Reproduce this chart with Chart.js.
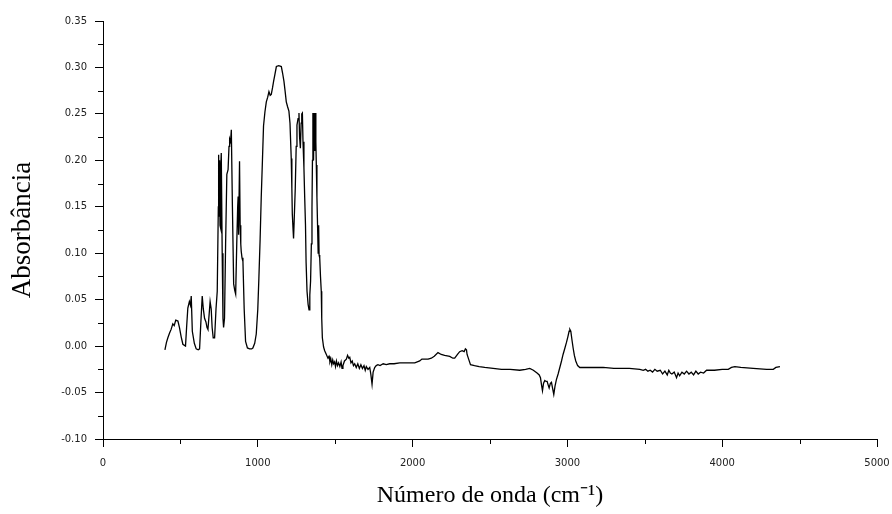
<!DOCTYPE html>
<html>
<head>
<meta charset="utf-8">
<script src="https://cdn.jsdelivr.net/npm/chart.js@4"></script>
<style>
  html, body { margin: 0; padding: 0; background: #fff; }
  #wrap { width: 892px; height: 514px; position: relative; }
</style>
</head>
<body>
<div id="wrap"><canvas id="ftir"></canvas></div>
<script>
// FTIR spectrum
const wavenumbers = [
  400, 410, 419, 430, 440, 451, 460, 470, 484, 494, 505, 516, 533, 540, 548, 558, 565, 570, 577, 590,
  602, 615, 624, 632, 641, 648, 656, 665, 672, 678, 686, 692, 699, 705, 712, 721, 730, 738, 745, 747,
  750, 753, 756, 758, 762, 764, 770, 775, 779, 785, 792, 800, 808, 814, 818, 824, 829, 836, 844, 851,
  857, 864, 870, 873, 876, 882, 886, 890, 893, 898, 904, 912, 921, 933, 947, 960, 968, 980, 990, 1000,
  1007, 1015, 1022, 1030, 1037, 1046, 1055, 1064, 1072, 1080, 1087, 1095, 1102, 1110, 1120, 1135, 1152, 1160, 1169, 1176,
  1184, 1192, 1201, 1208, 1216, 1220, 1223, 1228, 1231, 1235, 1242, 1248, 1253, 1260, 1266, 1270, 1275, 1280, 1284, 1288,
  1292, 1298, 1303, 1308, 1312, 1318, 1325, 1331, 1336, 1341, 1346, 1350, 1353, 1356, 1360, 1364, 1368, 1372, 1375, 1378,
  1382, 1385, 1390, 1393, 1396, 1400, 1405, 1410, 1413, 1417, 1425, 1432, 1440, 1453, 1460, 1466, 1472, 1478, 1484, 1490,
  1496, 1502, 1508, 1515, 1522, 1530, 1538, 1544, 1550, 1560, 1572, 1580, 1588, 1594, 1602, 1610, 1618, 1626, 1636, 1646,
  1656, 1666, 1676, 1686, 1694, 1701, 1712, 1723, 1730, 1738, 1745, 1755, 1765, 1776, 1790, 1810, 1830, 1852, 1880, 1917,
  1960, 2014, 2030, 2046, 2060, 2078, 2100, 2121, 2140, 2164, 2185, 2207, 2240, 2260, 2272, 2290, 2304, 2320, 2333, 2341,
  2348, 2352, 2362, 2374, 2400, 2430, 2466, 2520, 2574, 2630, 2692, 2730, 2757, 2780, 2804, 2818, 2826, 2833, 2839, 2846,
  2854, 2862, 2869, 2876, 2882, 2890, 2897, 2905, 2912, 2920, 2929, 2940, 2951, 2962, 2972, 2984, 2994, 3003, 3011, 3016,
  3022, 3030, 3037, 3045, 3054, 3066, 3080, 3150, 3231, 3300, 3400, 3468, 3490, 3505, 3520, 3535, 3550, 3565, 3580, 3600,
  3615, 3630, 3645, 3655, 3665, 3675, 3690, 3705, 3715, 3725, 3740, 3755, 3770, 3785, 3800, 3815, 3830, 3845, 3860, 3880,
  3899, 3950, 4000, 4039, 4060, 4082, 4120, 4200, 4287, 4330, 4347, 4373
];
const absorbance = [
  -0.004, 0.004, 0.009, 0.014, 0.018, 0.024, 0.022, 0.028, 0.027, 0.020, 0.010, 0.002, 0.000, 0.020, 0.041, 0.048, 0.044, 0.054, 0.016, 0.003,
  -0.003, -0.004, -0.003, 0.025, 0.054, 0.040, 0.030, 0.026, 0.020, 0.018, 0.035, 0.048, 0.040, 0.020, 0.009, 0.009, 0.040, 0.059, 0.150, 0.206,
  0.140, 0.200, 0.130, 0.127, 0.190, 0.208, 0.100, 0.030, 0.020, 0.030, 0.110, 0.185, 0.190, 0.215, 0.223, 0.220, 0.233, 0.150, 0.067, 0.060,
  0.056, 0.110, 0.150, 0.161, 0.120, 0.199, 0.130, 0.110, 0.102, 0.095, 0.091, 0.040, 0.005, -0.002, -0.003, -0.003, -0.002, 0.003, 0.013, 0.040,
  0.073, 0.115, 0.159, 0.200, 0.237, 0.252, 0.263, 0.268, 0.274, 0.270, 0.271, 0.278, 0.285, 0.292, 0.301, 0.302, 0.301, 0.294, 0.285, 0.275,
  0.263, 0.258, 0.253, 0.240, 0.202, 0.170, 0.142, 0.125, 0.116, 0.135, 0.170, 0.215, 0.238, 0.245, 0.251, 0.225, 0.213, 0.240, 0.250, 0.251,
  0.220, 0.192, 0.160, 0.131, 0.090, 0.059, 0.045, 0.039, 0.055, 0.070, 0.110, 0.149, 0.200, 0.251, 0.200, 0.251, 0.210, 0.251, 0.220, 0.195,
  0.160, 0.138, 0.100, 0.130, 0.098, 0.095, 0.075, 0.059, 0.030, 0.009, -0.001, -0.005, -0.008, -0.013, -0.011, -0.017, -0.014, -0.020, -0.015, -0.019,
  -0.017, -0.022, -0.016, -0.021, -0.018, -0.022, -0.017, -0.024, -0.021, -0.016, -0.014, -0.010, -0.013, -0.012, -0.018, -0.016, -0.021, -0.019, -0.023, -0.019,
  -0.024, -0.020, -0.024, -0.021, -0.026, -0.022, -0.025, -0.023, -0.030, -0.041, -0.028, -0.023, -0.021, -0.020, -0.021, -0.019, -0.020, -0.019, -0.019, -0.018,
  -0.018, -0.018, -0.017, -0.016, -0.014, -0.014, -0.014, -0.013, -0.011, -0.007, -0.009, -0.010, -0.011, -0.013, -0.013, -0.009, -0.006, -0.005, -0.006, -0.003,
  -0.004, -0.009, -0.014, -0.020, -0.021, -0.022, -0.023, -0.024, -0.025, -0.025, -0.026, -0.025, -0.024, -0.026, -0.029, -0.031, -0.034, -0.042, -0.048, -0.040,
  -0.037, -0.038, -0.038, -0.042, -0.045, -0.040, -0.039, -0.046, -0.052, -0.043, -0.036, -0.030, -0.023, -0.016, -0.009, -0.002, 0.004, 0.010, 0.016, 0.018,
  0.016, 0.006, -0.002, -0.010, -0.016, -0.021, -0.023, -0.023, -0.023, -0.024, -0.024, -0.025, -0.026, -0.025, -0.027, -0.026, -0.028, -0.025, -0.027, -0.026,
  -0.030, -0.027, -0.031, -0.026, -0.029, -0.030, -0.028, -0.034, -0.029, -0.032, -0.028, -0.030, -0.027, -0.030, -0.028, -0.031, -0.027, -0.030, -0.028, -0.029,
  -0.026, -0.026, -0.025, -0.025, -0.023, -0.022, -0.023, -0.024, -0.025, -0.025, -0.023, -0.022
];

// Axis ranges and tick steps
const xRange = [0, 5000];
const xStep = 1000;
const yRange = [-0.10, 0.35];
const yStep = 0.05;

const points = wavenumbers.map((w, i) => ({ x: w, y: absorbance[i] }));

// Half-length ticks between the labelled ones
const minorTicks = {
  id: 'minorTicks',
  afterDraw(chart) {
    const { ctx, chartArea, scales: { x, y } } = chart;
    ctx.save();
    ctx.strokeStyle = '#000';
    ctx.lineWidth = 1;
    ctx.beginPath();
    for (let v = xRange[0] + xStep / 2; v < xRange[1]; v += xStep) {
      const px = Math.round(x.getPixelForValue(v)) + 0.5;
      ctx.moveTo(px, chartArea.bottom);
      ctx.lineTo(px, chartArea.bottom + 5);
    }
    for (let v = yRange[0] + yStep / 2; v < yRange[1]; v += yStep) {
      const py = Math.round(y.getPixelForValue(v)) + 0.5;
      ctx.moveTo(chartArea.left, py);
      ctx.lineTo(chartArea.left - 5, py);
    }
    ctx.stroke();
    ctx.restore();
  }
};

const tickFont = { family: 'DejaVu Sans', size: 10 };

new Chart(document.getElementById('ftir'), {
  type: 'line',
  data: {
    datasets: [{
      data: points,
      borderColor: '#000',
      borderWidth: 1.3,
      pointRadius: 0,
      tension: 0,
      fill: false
    }]
  },
  options: {
    responsive: true,
    maintainAspectRatio: false,
    animation: false,
    layout: { padding: { top: 21, right: 0, bottom: 0, left: 0 } },
    plugins: {
      legend: { display: false },
      tooltip: { enabled: false }
    },
    scales: {
      x: {
        type: 'linear',
        min: xRange[0],
        max: xRange[1],
        afterFit: s => {
          s.height = 75;
          s.paddingLeft = 0;
          s.paddingRight = 15;
        },
        border: { display: true, color: '#000', width: 1 },
        grid: { drawOnChartArea: false, drawTicks: true, tickLength: 8, color: '#000' },
        ticks: {
          stepSize: xStep,
          padding: 10,
          color: '#222',
          font: tickFont,
          maxRotation: 0,
          callback: v => String(v)
        },
        title: {
          display: true,
          text: 'Número de onda (cm⁻¹)',
          color: '#000',
          font: { family: 'Liberation Serif', size: 24 },
          padding: { top: 0, bottom: 4 }
        }
      },
      y: {
        type: 'linear',
        min: yRange[0],
        max: yRange[1],
        afterFit: s => { s.width = 103; },
        border: { display: true, color: '#000', width: 1 },
        grid: { drawOnChartArea: false, drawTicks: true, tickLength: 8, color: '#000' },
        ticks: {
          stepSize: yStep,
          padding: 8,
          color: '#222',
          font: tickFont,
          callback: v => (Math.abs(v) < 1e-9 ? 0 : Number(v)).toFixed(2)
        },
        title: {
          display: true,
          text: 'Absorbância',
          color: '#000',
          font: { family: 'Liberation Serif', size: 27 },
          padding: { top: 7, bottom: 0 }
        }
      }
    }
  },
  plugins: [minorTicks]
});
</script>
</body>
</html>
